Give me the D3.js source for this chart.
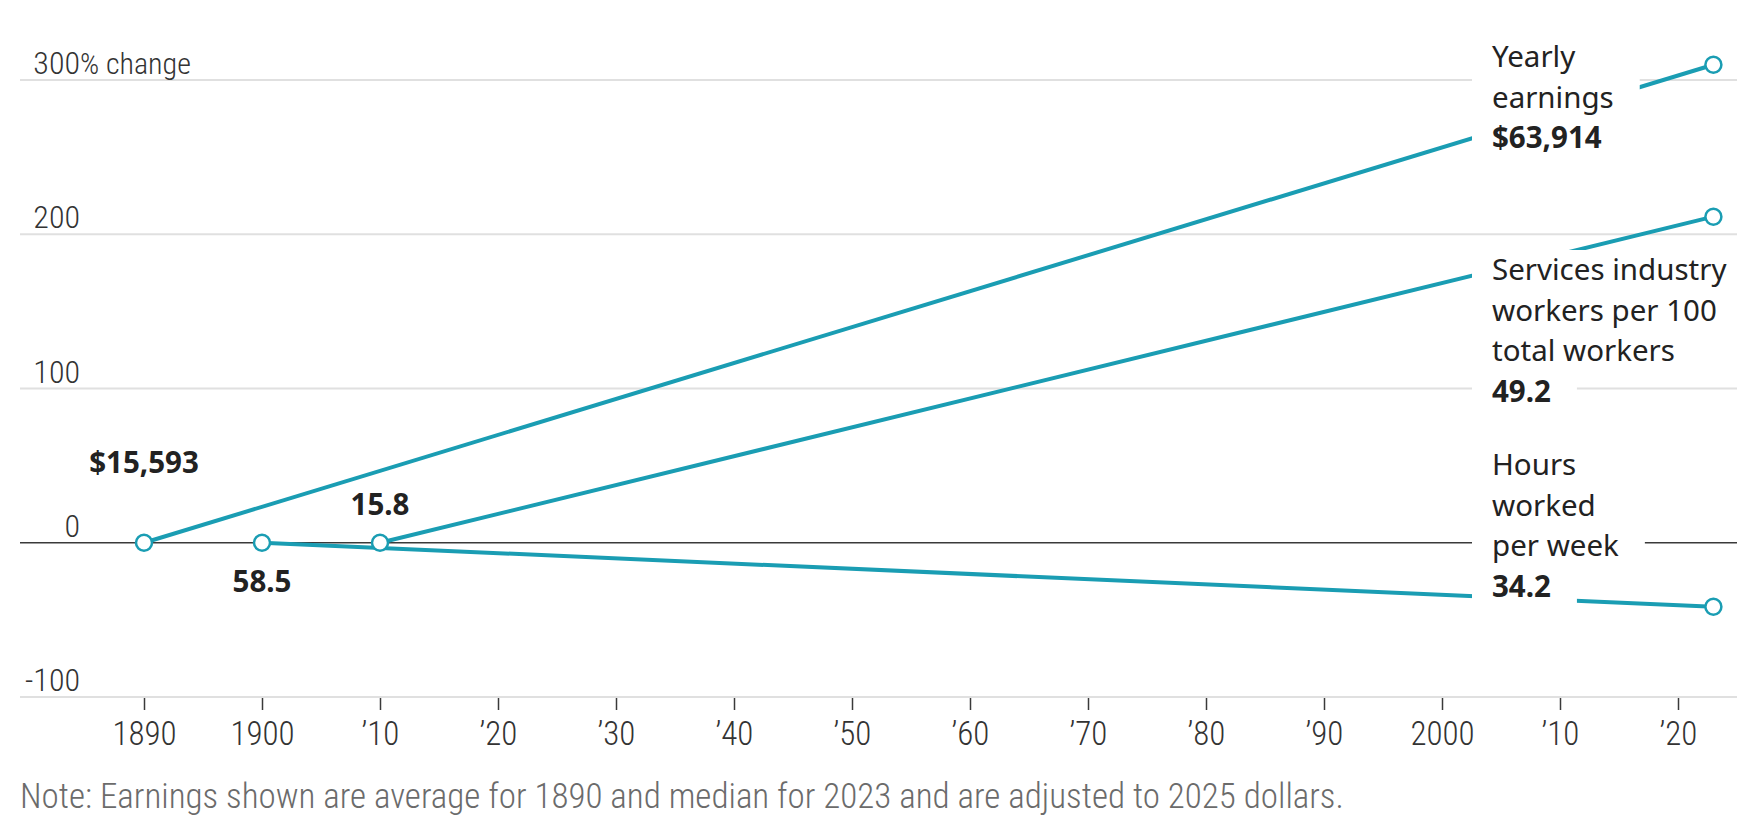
<!DOCTYPE html>
<html>
<head>
<meta charset="utf-8">
<script src="https://cdn.jsdelivr.net/npm/d3@7"></script>
<style>
  body { margin: 0; background: #fff; }
  .narrow { font-family: "Liberation Sans Narrow", "Roboto Condensed", "DejaVu Sans Condensed", sans-serif; font-weight: 300; }
  .lbl { font-family: "Noto Sans", "Open Sans", sans-serif; }
</style>
</head>
<body>
<div id="chart"></div>
<script>
// data
const seriesNames = ["Yearly earnings", "Services industry workers per 100 total workers", "Hours worked per week"];
const seriesLines = [["Yearly", "earnings"], ["Services industry", "workers per 100", "total workers"], ["Hours", "worked", "per week"]];
const startYears = [1890, 1910, 1900];
const endYear = 2023;
const startValues = [15593, 15.8, 58.5];
const endValues = [63914, 49.2, 34.2];
const startLabels = ["$15,593", "15.8", "58.5"];
const endLabels = ["$63,914", "49.2", "34.2"];
const yTicks = [-100, 0, 100, 200, 300];
const xTicks = [1890, 1900, 1910, 1920, 1930, 1940, 1950, 1960, 1970, 1980, 1990, 2000, 2010, 2020];
const xTickLabels = ["1890", "1900", "\u201910", "\u201920", "\u201930", "\u201940", "\u201950", "\u201960", "\u201970", "\u201980", "\u201990", "2000", "\u201910", "\u201920"];
const note = "Note: Earnings shown are average for 1890 and median for 2023 and are adjusted to 2025 dollars.";

const config = {
    teal: "#1a9db3",
    grid: "#e0e0e0",
    axis: "#3a3a3a",
    text: "#222",
    tick: "#333",
    note: "#6b6b6b"
};

// layout (pixel placement of annotations)
const layout = {
    firstBaseline: [67, 280, 475],   // first line of right labels
    startDy: [-70, -28, 49],         // start value label offset from line
    labelX: 1492,
    lineGap: 40.5
};

const width = 1741, height = 819;
const svg = d3.select("#chart").append("svg")
    .attr("width", width)
    .attr("height", height);

const x = d3.scaleLinear().domain([1890, 2020]).range([144, 1678]);
const y = d3.scaleLinear().domain([-100, 300]).range([697, 80]);

const pct = (a, b) => (b / a - 1) * 100;
const series = seriesNames.map((name, i) => ({
    name: name,
    lines: seriesLines[i],
    points: [
        {year: startYears[i], value: 0},
        {year: endYear, value: pct(startValues[i], endValues[i])}
    ],
    startLabel: startLabels[i],
    endLabel: endLabels[i]
}));

// gridlines
svg.append("g").selectAll("line")
    .data(yTicks.filter(d => d !== 0))
    .enter().append("line")
    .attr("x1", 20).attr("x2", 1737)
    .attr("y1", d => y(d)).attr("y2", d => y(d))
    .attr("stroke", config.grid)
    .attr("stroke-width", 2);

// y labels
const yLab = svg.append("g").attr("class", "narrow")
    .style("font-size", "32px").attr("fill", config.tick);
yLab.selectAll("text")
    .data(yTicks)
    .enter().append("text")
    .attr("x", 80)
    .attr("y", d => y(d) - 6)
    .attr("text-anchor", "end")
    .text(d => d);
yLab.append("text")
    .attr("x", 80)
    .attr("y", y(300) - 6)
    .style("font-size", "30px")
    .text("% change");

// x axis ticks
const xAxis = svg.append("g").attr("transform", `translate(0, ${y(-100)})`)
    .call(d3.axisBottom(x).tickValues(xTicks).tickSize(13).tickFormat((d, i) => xTickLabels[i]));
xAxis.select(".domain").remove();
xAxis.selectAll(".tick line").attr("stroke", config.axis).attr("stroke-width", 1.5).attr("y1", 1);
xAxis.selectAll(".tick text")
    .attr("class", "narrow")
    .style("font-size", "33px")
    .attr("fill", config.tick)
    .attr("dy", 0)
    .attr("y", 48);

// zero line
svg.append("line")
    .attr("x1", 20).attr("x2", 1737)
    .attr("y1", y(0)).attr("y2", y(0))
    .attr("stroke", config.axis)
    .attr("stroke-width", 1.5);

// data lines
const line = d3.line().x(d => x(d.year)).y(d => y(d.value));
svg.append("g").selectAll("path")
    .data(series)
    .enter().append("path")
    .attr("d", d => line(d.points))
    .attr("fill", "none")
    .attr("stroke", config.teal)
    .attr("stroke-width", 4);

// right labels with white boxes behind each line
series.forEach((s, i) => {
    const g = svg.append("g").attr("class", "lbl");
    const rows = s.lines.map(t => ({t: t, bold: false})).concat([{t: s.endLabel, bold: true}]);
    rows.forEach((r, j) => {
        const by = layout.firstBaseline[i] + j * layout.lineGap;
        const bg = g.append("rect").attr("fill", "#fff");
        const t = g.append("text")
            .attr("x", layout.labelX)
            .attr("y", by)
            .style("font-size", "29.5px")
            .style("font-weight", r.bold ? 700 : 400)
            .attr("fill", config.text)
            .text(r.t);
        const w = t.node().getComputedTextLength();
        bg.attr("x", layout.labelX - 20)
            .attr("y", by - 30)
            .attr("width", w + 46)
            .attr("height", 40.5);
    });
});

// start value labels
svg.append("g").attr("class", "lbl").selectAll("text")
    .data(series)
    .enter().append("text")
    .attr("x", d => x(d.points[0].year))
    .attr("y", (d, i) => y(0) + layout.startDy[i])
    .attr("text-anchor", "middle")
    .style("font-size", "29.5px")
    .style("font-weight", 700)
    .attr("fill", config.text)
    .text(d => d.startLabel);

// markers
const pts = series.flatMap(s => s.points);
svg.append("g").selectAll("circle")
    .data(pts)
    .enter().append("circle")
    .attr("cx", d => x(d.year))
    .attr("cy", d => y(d.value))
    .attr("r", 8)
    .attr("fill", "#fff")
    .attr("stroke", config.teal)
    .attr("stroke-width", 2.5);

// note
svg.append("text")
    .attr("class", "narrow")
    .attr("x", 20)
    .attr("y", 808)
    .style("font-size", "35px")
    .attr("fill", config.note)
    .text(note);
</script>
</body>
</html>
